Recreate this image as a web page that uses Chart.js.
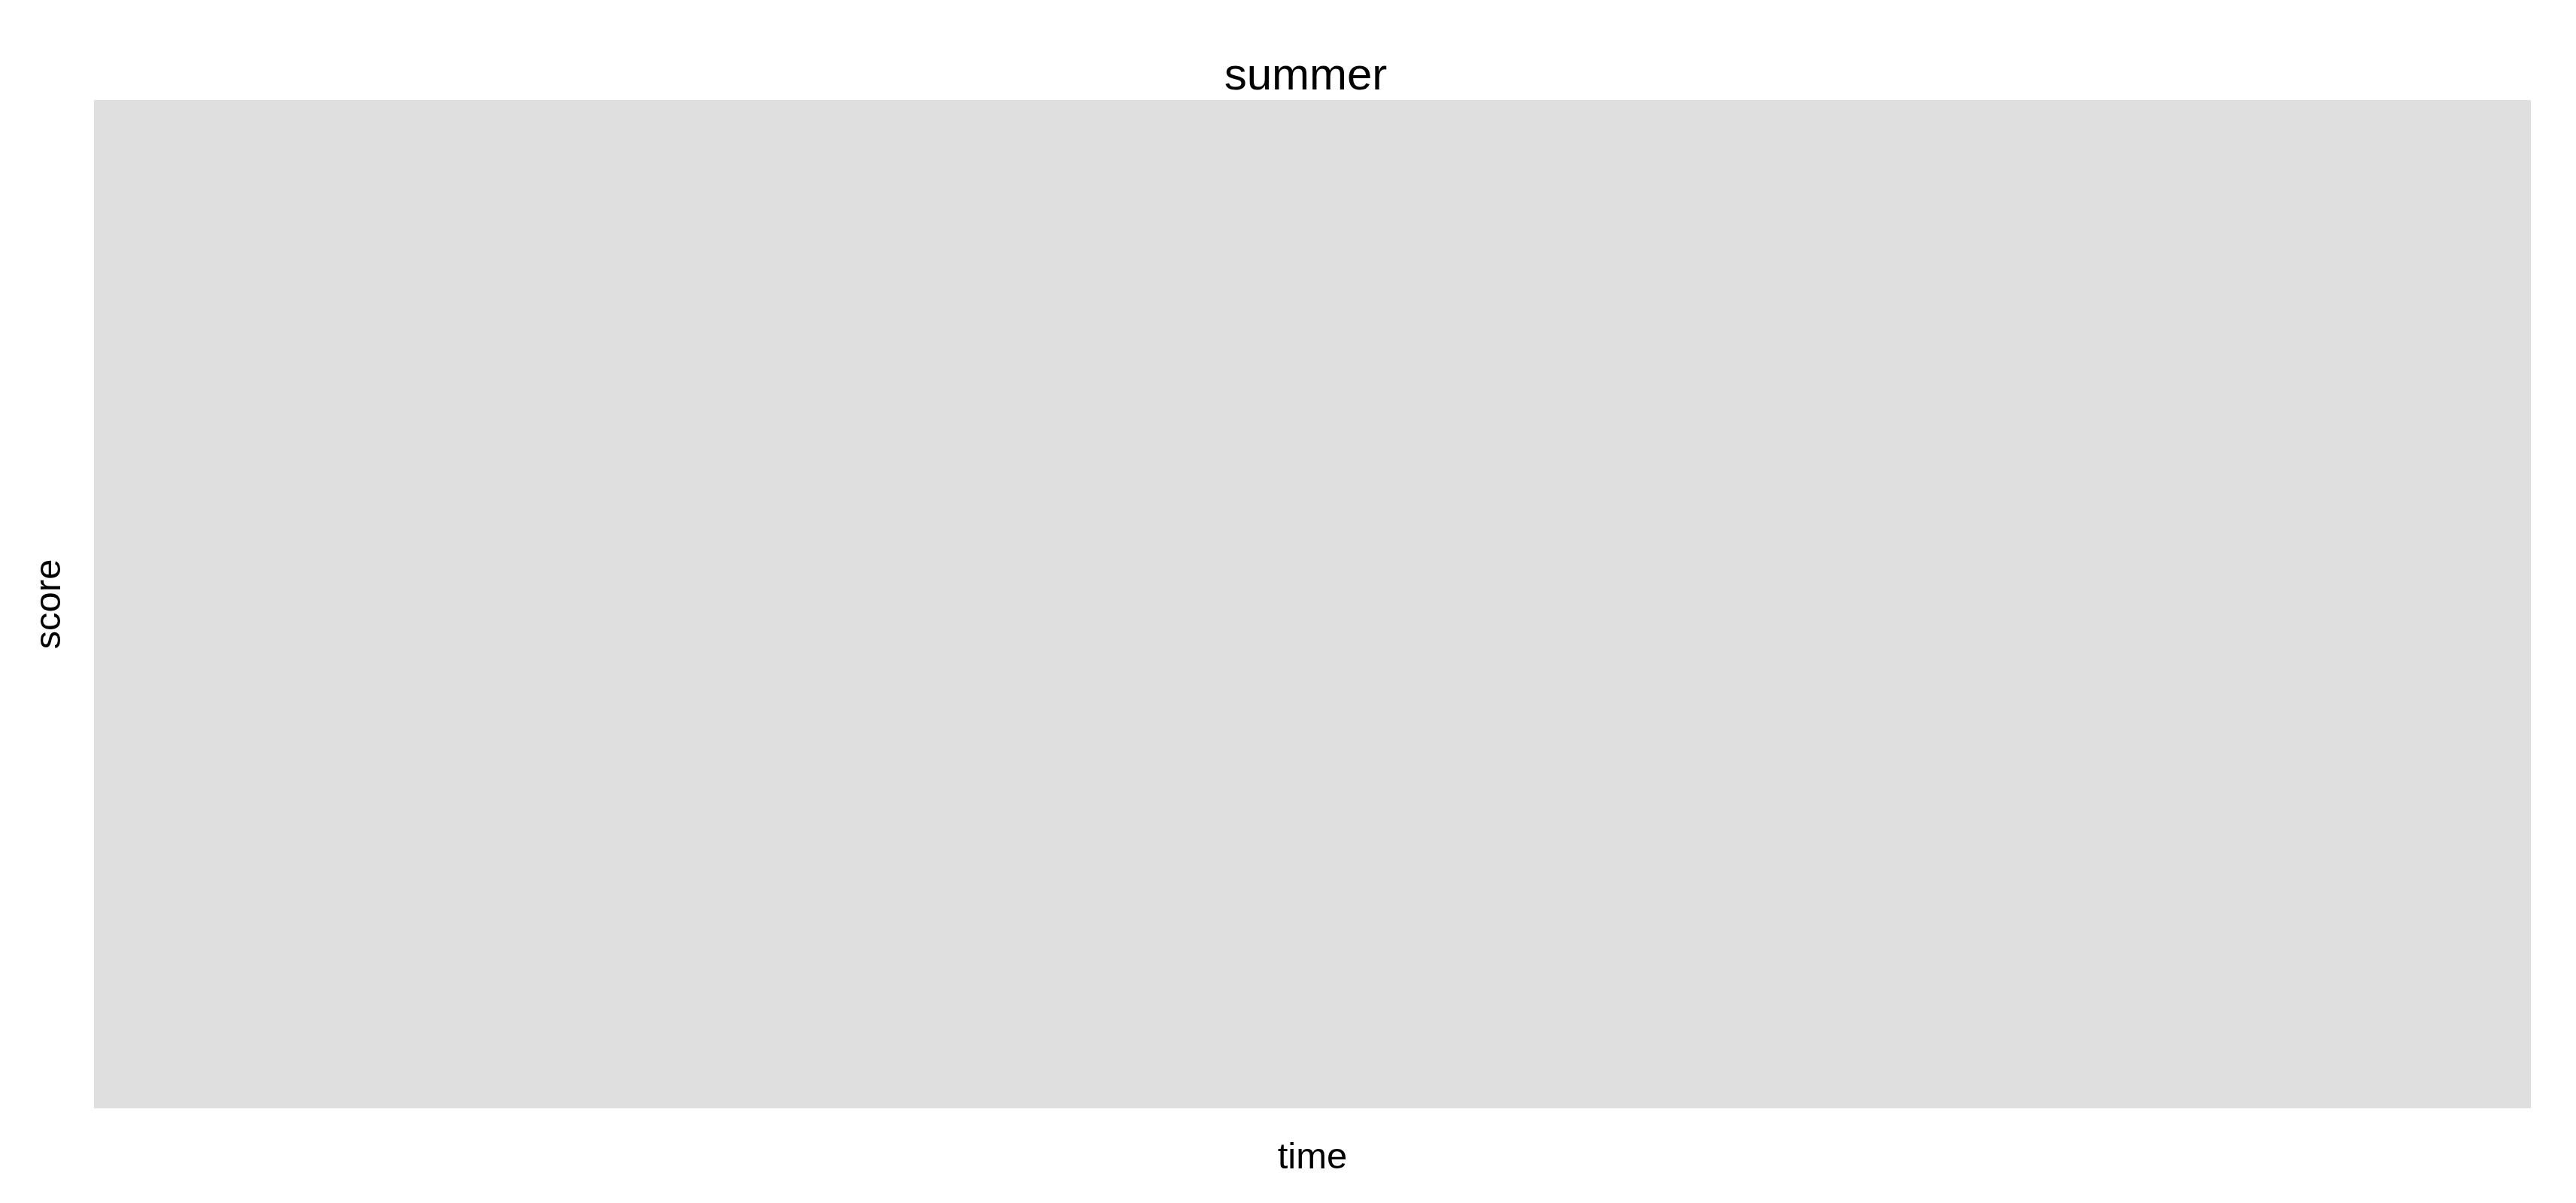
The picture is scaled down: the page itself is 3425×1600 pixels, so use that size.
<!DOCTYPE html>
<html>
<head>
<meta charset="utf-8">
<script src="https://cdn.jsdelivr.net/npm/chart.js@4/dist/chart.umd.min.js"></script>
<style>
  html, body { margin: 0; padding: 0; background: #ffffff; }
  #wrap { width: 3425px; height: 1600px; }
</style>
</head>
<body>
<div id="wrap"><canvas id="c" width="3425" height="1600"></canvas></div>
<script>
// Data (the reference panel is empty: no observations are drawn)
const categories = [];
const scores = [];
const chartTitle = "summer";
const xTitle = "time";
const yTitle = "score";

const FONT = "'Liberation Sans', Arial, Helvetica, sans-serif";

const panelBg = {
  id: 'panelBg',
  beforeDraw(chart) {
    const {ctx, chartArea: a} = chart;
    ctx.save();
    ctx.fillStyle = '#ffffff';
    ctx.fillRect(0, 0, chart.width, chart.height);
    ctx.fillStyle = '#dfdfdf';
    ctx.fillRect(a.left, a.top, a.right - a.left, a.bottom - a.top);
    ctx.restore();
  }
};

new Chart(document.getElementById('c'), {
  type: 'line',
  data: {
    labels: categories,
    datasets: [{ label: yTitle, data: scores, borderColor: '#000', pointRadius: 0 }]
  },
  options: {
    responsive: false,
    animation: false,
    devicePixelRatio: 1,
    layout: { padding: { left: 47, right: 0, top: 0, bottom: 0 } },
    plugins: {
      legend: { display: false },
      tooltip: { enabled: false },
      title: {
        display: true,
        text: chartTitle,
        color: '#000000',
        font: { family: FONT, size: 60, weight: 'normal', lineHeight: 1 },
        padding: { top: 72, bottom: 1 }
      }
    },
    scales: {
      x: {
        display: true,
        grid: { display: false },
        border: { display: false },
        ticks: { display: false },
        title: {
          display: true, text: xTitle, color: '#000000',
          font: { family: FONT, size: 49, weight: 'normal', lineHeight: 1 },
          padding: { top: 0, bottom: 35 }
        },
        afterFit(s) { s.height = 126; }
      },
      y: {
        display: true,
        position: 'left',
        min: 0, max: 1,
        grid: { display: false },
        border: { display: false },
        ticks: { display: false },
        title: {
          display: true, text: yTitle, color: '#000000',
          font: { family: FONT, size: 49, weight: 'normal', lineHeight: 0.8 },
          padding: { top: 0, bottom: 0 }
        },
        afterFit(s) { s.width = 78; }
      },
      y2: {
        display: true,
        position: 'right',
        min: 0, max: 1,
        grid: { display: false },
        border: { display: false },
        ticks: { display: false },
        afterFit(s) { s.width = 60; }
      }
    }
  },
  plugins: [panelBg]
});
</script>
</body>
</html>
